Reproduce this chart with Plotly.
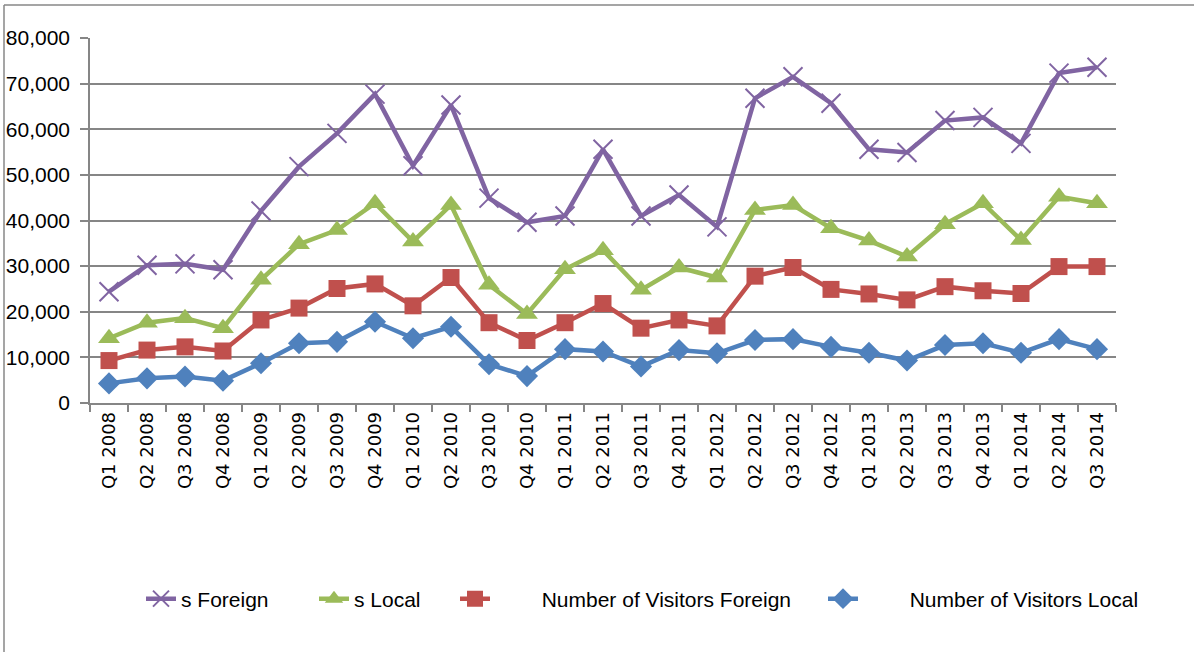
import plotly.graph_objects as go

quarters = ["Q1 2008","Q2 2008","Q3 2008","Q4 2008",
            "Q1 2009","Q2 2009","Q3 2009","Q4 2009",
            "Q1 2010","Q2 2010","Q3 2010","Q4 2010",
            "Q1 2011","Q2 2011","Q3 2011","Q4 2011",
            "Q1 2012","Q2 2012","Q3 2012","Q4 2012",
            "Q1 2013","Q2 2013","Q3 2013","Q4 2013",
            "Q1 2014","Q2 2014","Q3 2014"]

s_foreign = [24400, 30200, 30500, 29200, 42100, 51800, 59100, 67700,
             52000, 65300, 44900, 39600, 41000, 55600, 41000, 45600,
             38600, 66800, 71500, 65700, 55600, 54900, 61900, 62600,
             56900, 72300, 73600]
s_local = [14200, 17600, 18600, 16400, 27000, 34800, 37900, 43800,
           35400, 43400, 25900, 19500, 29300, 33500, 24800, 29700,
           27500, 42300, 43400, 38300, 35600, 32100, 39200, 43800,
           35700, 45200, 43800]
visitors_foreign = [9300, 11600, 12300, 11400, 18200, 20800, 25100, 26100,
                    21300, 27500, 17600, 13700, 17600, 21800, 16400, 18200,
                    16900, 27800, 29700, 24900, 23900, 22600, 25500, 24600,
                    24000, 29900, 29900]
visitors_local = [4300, 5400, 5800, 4900, 8700, 13100, 13400, 17800,
                  14200, 16700, 8500, 5900, 11800, 11300, 8000, 11600,
                  10900, 13800, 14000, 12300, 11000, 9300, 12700, 13100,
                  11000, 14000, 11800]

series_names = ["s Foreign", "s Local",
                "Number of Visitors Foreign", "Number of Visitors Local"]

NB = "\u00a0"
fig = go.Figure()

fig.add_trace(go.Scatter(
    x=quarters, y=s_foreign, name=series_names[0], mode="lines+markers",
    line=dict(color="#8064A2", width=4.5),
    marker=dict(symbol="x-thin-open", size=19, color="#8064A2",
                line=dict(color="#8064A2", width=2)),
    legend="legend"))
fig.add_trace(go.Scatter(
    x=quarters, y=s_local, name=series_names[1], mode="lines+markers",
    line=dict(color="#9BBB59", width=4.5),
    marker=dict(symbol="triangle-up", size=19, color="#9BBB59"),
    legend="legend2"))
fig.add_trace(go.Scatter(
    x=quarters, y=visitors_foreign, name=NB * 8 + series_names[2], mode="lines+markers",
    line=dict(color="#C0504D", width=4.5),
    marker=dict(symbol="square", size=17, color="#C0504D"),
    legend="legend3"))
fig.add_trace(go.Scatter(
    x=quarters, y=visitors_local, name=NB * 8 + series_names[3], mode="lines+markers",
    line=dict(color="#4F81BD", width=4.5),
    marker=dict(symbol="diamond", size=17, color="#4F81BD"),
    legend="legend4"))

L, R, T, B = 90, 78, 38, 249
W, H = 1194, 652
pw, ph = W - L - R, H - T - B

def px_x(p):
    return (p - L) / pw

def px_y(p):
    return (H - B - p) / ph

legend_font = dict(family="Liberation Sans", size=21, color="#000000")
def leg(xpix):
    return dict(x=px_x(xpix), y=px_y(599), xanchor="left", yanchor="middle",
                orientation="h", font=legend_font, bgcolor="rgba(0,0,0,0)",
                borderwidth=0)

fig.update_layout(
    width=W, height=H,
    margin=dict(l=L, r=R, t=T, b=B, autoexpand=False),
    paper_bgcolor="white", plot_bgcolor="white",
    showlegend=True,
    legend=leg(141), legend2=leg(314), legend3=leg(455), legend4=leg(823),
    xaxis=dict(
        type="category", tickson="boundaries", ticks="outside", ticklen=7,
        tickwidth=1.5, tickcolor="#868686", automargin=False,
        showline=True, linecolor="#868686", linewidth=1.5,
        showgrid=False, tickangle=-90,
        tickfont=dict(family="DejaVu Sans", size=18, color="#000000"),
        range=[-0.5, len(quarters) - 0.5]),
    yaxis=dict(
        range=[0, 80000], dtick=10000, tickformat=",",
        ticks="outside", ticklen=8, tickwidth=1.5, tickcolor="#868686",
        ticklabelstandoff=6, automargin=False,
        showline=True, linecolor="#868686", linewidth=1.5,
        showgrid=True, gridcolor="#868686", gridwidth=1.5,
        zeroline=False,
        tickfont=dict(family="Liberation Sans", size=21, color="#000000")),
    shapes=[
        dict(type="line", xref="paper", yref="paper",
             x0=px_x(4), x1=px_x(W), y0=px_y(5), y1=px_y(5),
             line=dict(color="#878787", width=1.5)),
        dict(type="line", xref="paper", yref="paper",
             x0=px_x(4), x1=px_x(4), y0=px_y(5), y1=px_y(H),
             line=dict(color="#878787", width=1.5)),
    ],
)

fig.write_html("out.html",
               config={"displayModeBar": False},
               post_script="document.body.style.margin='0';")
